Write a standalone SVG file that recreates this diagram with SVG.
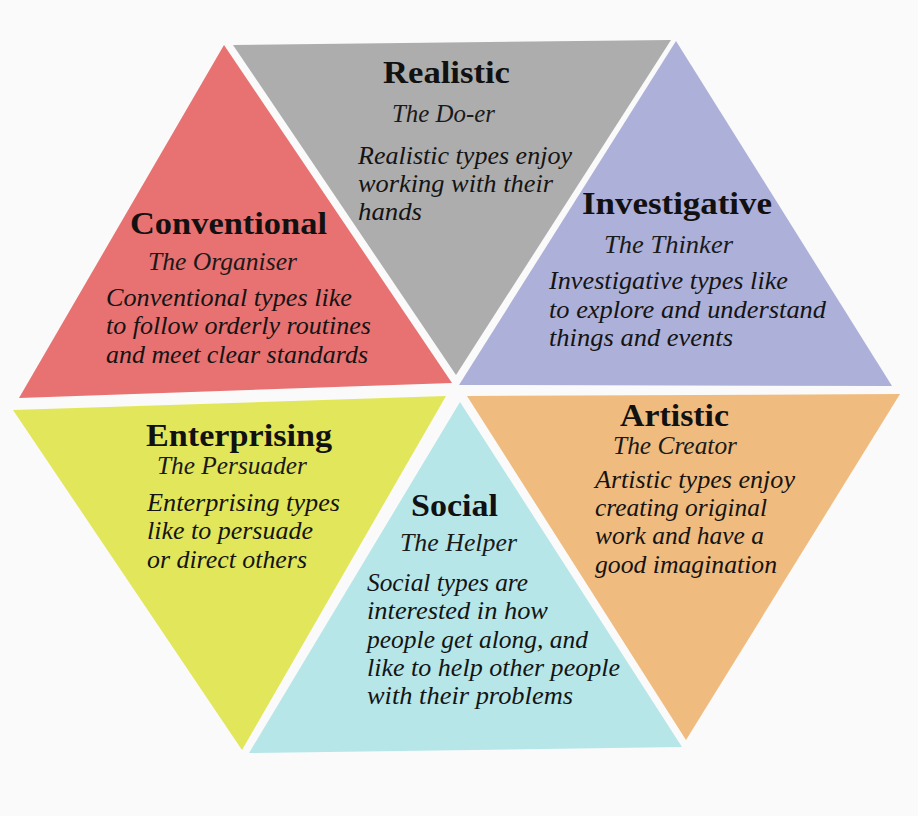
<svg xmlns="http://www.w3.org/2000/svg" width="918" height="816" viewBox="0 0 918 816">
<style>
text{font-family:"Liberation Serif","DejaVu Serif",serif;}
.t{font-weight:bold;font-size:32px;fill:#111;}
.s{font-style:italic;font-size:24.5px;fill:#1a1a1a;}
.b{font-style:italic;font-size:24.5px;fill:#141414;}
</style>
<rect x="0" y="0" width="918" height="816" fill="#fafafa"/>
<g id="conventional">
<polygon points="224,45 452,383 19,398" fill="#e87171"/>
<text class="t" x="130" y="234" textLength="197" lengthAdjust="spacingAndGlyphs">Conventional</text>
<text class="s" x="148" y="270" textLength="149" lengthAdjust="spacingAndGlyphs">The Organiser</text>
<text class="b" x="106" y="306" textLength="246" lengthAdjust="spacingAndGlyphs" fill="#2a0a0a">Conventional types like</text>
<text class="b" x="106" y="334" textLength="265" lengthAdjust="spacingAndGlyphs" fill="#2a0a0a">to follow orderly routines</text>
<text class="b" x="106" y="363" textLength="262" lengthAdjust="spacingAndGlyphs" fill="#2a0a0a">and meet clear standards</text>
</g>
<g id="realistic">
<polygon points="233,45 671,40 456,375" fill="#adadad"/>
<text class="t" x="383" y="83" textLength="127" lengthAdjust="spacingAndGlyphs">Realistic</text>
<text class="s" x="392" y="122" textLength="103" lengthAdjust="spacingAndGlyphs">The Do-er</text>
<text class="b" x="358" y="164" textLength="214" lengthAdjust="spacingAndGlyphs">Realistic types enjoy</text>
<text class="b" x="358" y="192" textLength="195" lengthAdjust="spacingAndGlyphs">working with their</text>
<text class="b" x="358" y="220" textLength="64" lengthAdjust="spacingAndGlyphs">hands</text>
</g>
<g id="investigative">
<polygon points="676,41 892,386 459,385" fill="#adb0d8"/>
<text class="t" x="582" y="214" textLength="190" lengthAdjust="spacingAndGlyphs">Investigative</text>
<text class="s" x="604" y="253" textLength="129" lengthAdjust="spacingAndGlyphs">The Thinker</text>
<text class="b" x="549" y="289" textLength="239" lengthAdjust="spacingAndGlyphs" fill="#0e0e28">Investigative types like</text>
<text class="b" x="549" y="318" textLength="277" lengthAdjust="spacingAndGlyphs" fill="#0e0e28">to explore and understand</text>
<text class="b" x="549" y="346" textLength="184" lengthAdjust="spacingAndGlyphs" fill="#0e0e28">things and events</text>
</g>
<g id="enterprising">
<polygon points="13,410 446,396 242,750" fill="#e2e65b"/>
<text class="t" x="146" y="446" textLength="186" lengthAdjust="spacingAndGlyphs">Enterprising</text>
<text class="s" x="157" y="474" textLength="150" lengthAdjust="spacingAndGlyphs">The Persuader</text>
<text class="b" x="147" y="511" textLength="193" lengthAdjust="spacingAndGlyphs">Enterprising types</text>
<text class="b" x="147" y="539" textLength="166" lengthAdjust="spacingAndGlyphs">like to persuade</text>
<text class="b" x="147" y="568" textLength="160" lengthAdjust="spacingAndGlyphs">or direct others</text>
</g>
<g id="social">
<polygon points="460,402 682,747 249,753" fill="#b6e6e8"/>
<text class="t" x="411" y="516" textLength="87" lengthAdjust="spacingAndGlyphs">Social</text>
<text class="s" x="400" y="551" textLength="117" lengthAdjust="spacingAndGlyphs">The Helper</text>
<text class="b" x="367" y="591" textLength="161" lengthAdjust="spacingAndGlyphs">Social types are</text>
<text class="b" x="367" y="619" textLength="181" lengthAdjust="spacingAndGlyphs">interested in how</text>
<text class="b" x="367" y="648" textLength="221" lengthAdjust="spacingAndGlyphs">people get along, and</text>
<text class="b" x="367" y="676" textLength="253" lengthAdjust="spacingAndGlyphs">like to help other people</text>
<text class="b" x="367" y="704" textLength="206" lengthAdjust="spacingAndGlyphs">with their problems</text>
</g>
<g id="artistic">
<polygon points="467,396 900,394 686,740" fill="#f0bb7e"/>
<text class="t" x="620" y="426" textLength="109" lengthAdjust="spacingAndGlyphs">Artistic</text>
<text class="s" x="613" y="454" textLength="124" lengthAdjust="spacingAndGlyphs">The Creator</text>
<text class="b" x="595" y="488" textLength="200" lengthAdjust="spacingAndGlyphs">Artistic types enjoy</text>
<text class="b" x="595" y="516" textLength="172" lengthAdjust="spacingAndGlyphs">creating original</text>
<text class="b" x="595" y="544" textLength="169" lengthAdjust="spacingAndGlyphs">work and have a</text>
<text class="b" x="595" y="573" textLength="182" lengthAdjust="spacingAndGlyphs">good imagination</text>
</g>
<g id="connectors"></g>
</svg>
